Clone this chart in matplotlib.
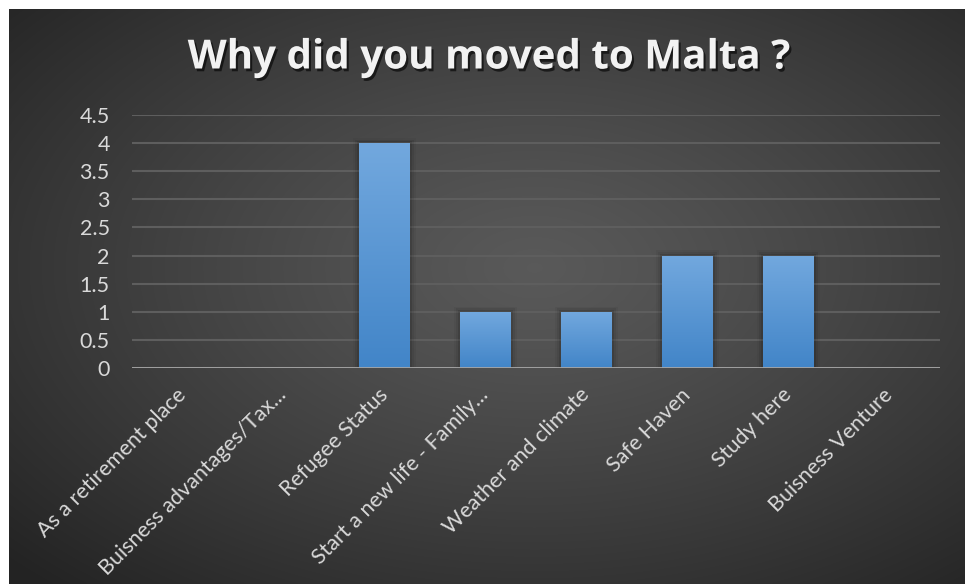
import numpy as np
import matplotlib
matplotlib.use("Agg")
from matplotlib import pyplot as plt
from matplotlib import patheffects as pe
from matplotlib import transforms

# survey answers
reasons = ["As a retirement place", "Buisness advantages/Tax...", "Refugee Status",
           "Start a new life - Family...", "Weather and climate", "Safe Haven",
           "Study here", "Buisness Venture"]
counts = [0, 0, 4, 1, 1, 2, 2, 0]
yticks = [0, 0.5, 1, 1.5, 2, 2.5, 3, 3.5, 4, 4.5]

plt.rcParams['font.family'] = ['Lato', 'DejaVu Sans']

W, H = 965, 584
fig = plt.figure(figsize=(W / 100, H / 100), dpi=100, facecolor="white")

# dark background with radial glow
bg = fig.add_axes([9 / W, 0, (W - 9) / W, (H - 9) / H])
bg.set_axis_off()
yy, xx = np.mgrid[0:1:300j, 0:1:500j]
r = np.sqrt(((xx - 0.55) / 0.75) ** 2 + ((yy - 0.45) / 0.75) ** 2)
lum = 0.35 - 0.21 * np.clip(r, 0, 1) ** 1.2
bg.imshow(np.dstack([lum, lum, lum]), aspect="auto", extent=[0, 1, 0, 1],
          interpolation="bilinear")
bg.set_xlim(0, 1)
bg.set_ylim(0, 1)

ax = fig.add_axes([132 / W, 1 - 368 / H, 808 / W, 253 / H])
ax.patch.set_alpha(0)
x = np.arange(len(reasons))
bars = ax.bar(x, counts, width=0.5, color="#5b9bd5", zorder=3)

# vertical gradient on each bar plus a soft shadow
grad = np.linspace(0, 1, 100).reshape(-1, 1)
top_c = np.array([0x72, 0xa8, 0xde]) / 255
bot_c = np.array([0x42, 0x85, 0xc8]) / 255
img = top_c * (1 - grad[..., None]) + bot_c * grad[..., None]
for b in bars:
    h = b.get_height()
    if h <= 0:
        continue
    bx = b.get_x()
    w = b.get_width()
    for k, a in enumerate([0.10, 0.07, 0.04]):
        d = 0.02 * (k + 1)
        ax.add_patch(plt.Rectangle((bx - d, -0.02), w + 2 * d, h + 0.02 + d * 1.5,
                                   color="black", alpha=a, zorder=2, lw=0))
    im = ax.imshow(img, extent=[bx, bx + w, 0, h], aspect="auto", zorder=4,
                   interpolation="bilinear")
    im.set_clip_path(b)

ax.set_xlim(-0.5, len(reasons) - 0.5)
ax.set_ylim(0, 4.5)
ax.set_yticks(yticks)
ax.set_yticklabels([f"{v:g}" for v in yticks])
ax.set_xticks(x)
ax.set_xticklabels(reasons, rotation=45, ha="right", va="top", rotation_mode="anchor")
ax.tick_params(axis="both", length=0, colors="#d9d9d9", labelsize=15.5)
ax.tick_params(axis="y", pad=16)
ax.tick_params(axis="x", pad=12)
shift = transforms.ScaledTranslation(-7 / 100, 0, fig.dpi_scale_trans)
for lbl in ax.get_xticklabels():
    lbl.set_transform(lbl.get_transform() + shift)
ax.grid(axis="y", color="#5e5e5e", lw=1.5, zorder=1)
for s in ax.spines.values():
    s.set_visible(False)
ax.axhline(0, color="#a6a6a6", lw=2, zorder=5)

fig.text(0.506, 1 - 58 / H, "Why did you moved to Malta ?", ha="center", va="center",
         fontsize=29, fontweight="bold", color="#f2f2f2", family=["Open Sans", "DejaVu Sans"],
         path_effects=[pe.withSimplePatchShadow(offset=(1.5, -2), shadow_rgbFace="black", alpha=0.6)])

fig.savefig("out.png", dpi=100, facecolor="white")
